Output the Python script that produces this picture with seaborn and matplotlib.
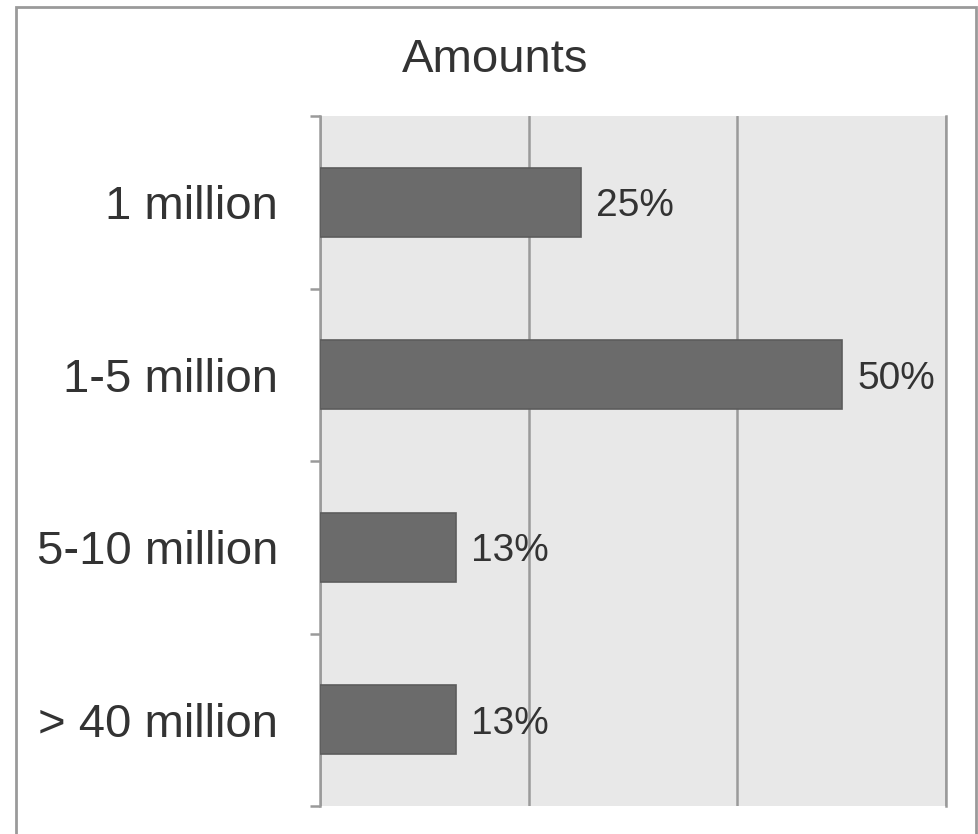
import matplotlib
matplotlib.use("Agg")
import matplotlib.pyplot as plt
from matplotlib.patches import Rectangle
from matplotlib.ticker import FixedLocator
import seaborn as sns
import pandas as pd

categories = ["1 million", "1-5 million", "5-10 million", "> 40 million"]
shares = [25, 50, 13, 13]
value_labels = ["25%", "50%", "13%", "13%"]

sns.set_style("white")
plt.rcParams["font.family"] = ["Liberation Sans", "DejaVu Sans"]

df = pd.DataFrame({"category": categories, "share": shares})

fig = plt.figure(figsize=(9.79, 8.34), dpi=100)
ax = fig.add_axes([320 / 979, 28 / 834, (946 - 320) / 979, (806 - 116) / 834])
ax.set_facecolor("#e8e8e8")

sns.barplot(data=df, x="share", y="category", orient="h", ax=ax,
            color="#6b6b6b", saturation=1, width=0.4,
            edgecolor="#5c5c5c", linewidth=1.2, zorder=3)

ax.set_xlim(0, 60)
ax.set_ylim(len(categories) - 0.5, -0.5)
ax.set_xticks([0, 20, 40, 60])
ax.set_xticklabels([])
ax.tick_params(axis="x", length=0)
ax.grid(axis="x", color="#9a9a9a", linewidth=1.8, zorder=1)
ax.grid(axis="y", visible=False)

ax.yaxis.set_minor_locator(FixedLocator([i - 0.5 for i in range(len(categories) + 1)]))
ax.tick_params(axis="y", which="major", left=False, length=0, pad=30,
               labelsize=34, labelcolor="#333333")
ax.tick_params(axis="y", which="minor", left=True, length=7, width=1.8, color="#9a9a9a")

for side in ["top", "bottom"]:
    ax.spines[side].set_visible(False)
for side in ["left", "right"]:
    ax.spines[side].set_color("#9a9a9a")
    ax.spines[side].set_linewidth(1.8)
ax.set_xlabel("")
ax.set_ylabel("")

for i, (v, lab) in enumerate(zip(shares, value_labels)):
    ax.text(v + 1.5, i, lab, va="center_baseline", ha="left", fontsize=28,
            color="#333333", zorder=4)

fig.text((402 + 589) / 2 / 979, 1 - 60 / 834, "Amounts", ha="center", va="center",
         fontsize=34, color="#333333")

fig.patches.append(Rectangle((16 / 979, -0.05), (976 - 16) / 979, 1.05 - 7 / 834,
                             transform=fig.transFigure, fill=False,
                             edgecolor="#9a9a9a", linewidth=2))

fig.savefig("out.png", dpi=100)
